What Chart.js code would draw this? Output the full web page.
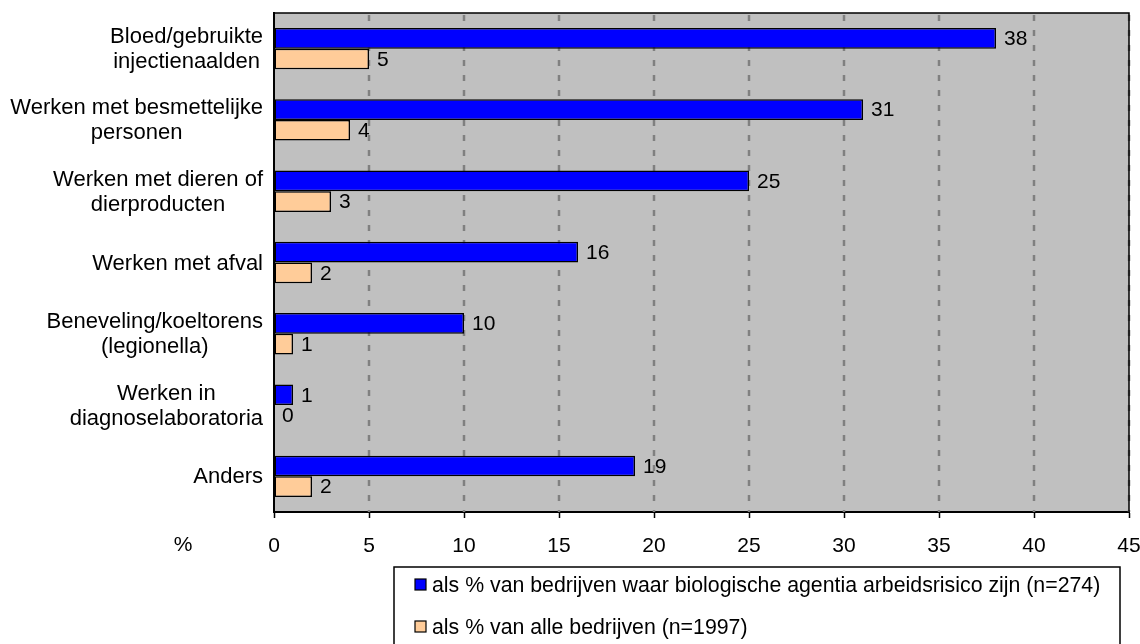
<!DOCTYPE html>
<html>
<head>
<meta charset="utf-8">
<script src="https://cdn.jsdelivr.net/npm/chart.js@4.4.1/dist/chart.umd.min.js"></script>
<style>
    html, body { margin: 0; padding: 0; background: #fff; }
    #wrap { width: 1140px; height: 644px; position: relative; }
</style>
</head>
<body>
<div id="wrap"><canvas id="riskChart"></canvas></div>
<script>
// Chart data
const categories = [
    ['Bloed/gebruikte', 'injectienaalden'],
    ['Werken met besmettelijke', 'personen'],
    ['Werken met dieren of', 'dierproducten'],
    ['Werken met afval'],
    ['Beneveling/koeltorens', '(legionella)'],
    ['Werken in', 'diagnoselaboratoria'],
    ['Anders']
];
const riskCompanies = [38, 31, 25, 16, 10, 1, 19];
const allCompanies = [5, 4, 3, 2, 1, 0, 2];
const seriesNames = [
    'als % van bedrijven waar biologische agentia arbeidsrisico zijn (n=274)',
    'als % van alle bedrijven (n=1997)'
];
const xTicks = [0, 5, 10, 15, 20, 25, 30, 35, 40, 45];

const FONT = "'Liberation Sans', Arial, sans-serif";
const FONT_SIZE = 21;

// plot background, dashed grid, frame, labels and legend
const decorPlugin = {
    id: 'decor',
    beforeDraw(chart) {
        const { ctx, chartArea: a } = chart;
        ctx.save();
        ctx.fillStyle = '#c0c0c0';
        ctx.fillRect(a.left, a.top, a.right - a.left, a.bottom - a.top);
        ctx.restore();
    },
    beforeDatasetsDraw(chart) {
        const { ctx, chartArea: a } = chart;
        const xScale = chart.scales.x;
        ctx.save();
        ctx.strokeStyle = '#808080';
        ctx.lineWidth = 2.5;
        ctx.setLineDash([6, 9]);
        xTicks.slice(1).forEach(v => {
            const x = Math.round(xScale.getPixelForValue(v));
            ctx.beginPath();
            ctx.moveTo(x, a.top + 2);
            ctx.lineTo(x, a.bottom);
            ctx.stroke();
        });
        ctx.restore();
    },
    afterDatasetsDraw(chart) {
        const { ctx } = chart;
        ctx.save();
        ctx.font = FONT_SIZE + 'px ' + FONT;
        ctx.fillStyle = '#000';
        ctx.textAlign = 'left';
        ctx.textBaseline = 'middle';
        chart.data.datasets.forEach((ds, i) => {
            chart.getDatasetMeta(i).data.forEach((bar, j) => {
                ctx.fillText(String(ds.data[j]), bar.x + 8, bar.y + 1);
            });
        });
        ctx.restore();
    },
    afterDraw(chart) {
        const { ctx, chartArea: a } = chart;
        const yScale = chart.scales.y;
        ctx.save();

        // frame top + right
        ctx.strokeStyle = '#000';
        ctx.lineWidth = 1.5;
        ctx.beginPath();
        ctx.moveTo(a.left, a.top);
        ctx.lineTo(a.right, a.top);
        ctx.lineTo(a.right, a.bottom);
        ctx.stroke();

        // category labels: block right-aligned, lines centred
        ctx.font = '22px ' + FONT;
        ctx.fillStyle = '#000';
        ctx.textAlign = 'center';
        ctx.textBaseline = 'middle';
        const lineH = 25;
        const rightEdge = a.left - 11;
        categories.forEach((lines, i) => {
            const cy = yScale.getPixelForValue(i);
            const w = Math.max(...lines.map(l => ctx.measureText(l).width));
            const cx = rightEdge - w / 2;
            const y0 = cy - (lines.length - 1) * lineH / 2;
            lines.forEach((l, k) => ctx.fillText(l, cx, y0 + k * lineH + 1));
        });

        // % unit label
        ctx.font = FONT_SIZE + 'px ' + FONT;
        ctx.fillText('%', 183, 545);

        // legend box
        const lx = 394, ly = 567, lw = 726;
        ctx.lineWidth = 1.5;
        ctx.strokeStyle = '#000';
        ctx.strokeRect(lx, ly, lw, 100);
        ctx.textAlign = 'left';
        ctx.font = '21.3px ' + FONT;
        chart.data.datasets.forEach((ds, i) => {
            const cy = 585 + i * 42;
            ctx.fillStyle = ds.backgroundColor;
            ctx.fillRect(415, cy - 6, 11, 11);
            ctx.lineWidth = 1.2;
            ctx.strokeRect(415, cy - 6, 11, 11);
            ctx.fillStyle = '#000';
            ctx.fillText(ds.label, 432, cy + 1);
        });
        ctx.restore();
    }
};

function initChart() {
    const ctx = document.getElementById('riskChart').getContext('2d');
    return new Chart(ctx, {
        type: 'bar',
        data: {
            labels: categories.map(c => c.join(' ')),
            datasets: [{
                label: seriesNames[0],
                data: riskCompanies,
                backgroundColor: '#0000ff',
                borderColor: '#000',
                borderWidth: 1.5,
                borderSkipped: false
            }, {
                label: seriesNames[1],
                data: allCompanies,
                backgroundColor: '#ffcc99',
                borderColor: '#000',
                borderWidth: 1.5,
                borderSkipped: false
            }]
        },
        options: {
            indexAxis: 'y',
            responsive: true,
            maintainAspectRatio: false,
            animation: false,
            datasets: { bar: { categoryPercentage: 0.58, barPercentage: 1 } },
            layout: { padding: { left: 0, top: 13, right: 11, bottom: 0 } },
            plugins: {
                legend: { display: false },
                tooltip: { enabled: false }
            },
            scales: {
                x: {
                    min: 0,
                    max: 45,
                    afterBuildTicks: scale => { scale.ticks = xTicks.map(v => ({ value: v })); },
                    afterFit: scale => {
                        scale.height = 132;
                        scale.paddingLeft = 0;
                        scale.paddingRight = 0;
                    },
                    grid: {
                        drawOnChartArea: false,
                        tickColor: '#000',
                        tickWidth: 1.5,
                        tickLength: 6
                    },
                    border: { display: true, color: '#000', width: 2 },
                    ticks: {
                        color: '#000',
                        padding: 16,
                        maxRotation: 0,
                        font: { family: FONT, size: FONT_SIZE }
                    }
                },
                y: {
                    afterFit: scale => { scale.width = 274; },
                    grid: { display: false },
                    border: { display: true, color: '#000', width: 2 },
                    ticks: { display: false }
                }
            }
        },
        plugins: [decorPlugin]
    });
}

document.addEventListener('DOMContentLoaded', initChart);
</script>
</body>
</html>
